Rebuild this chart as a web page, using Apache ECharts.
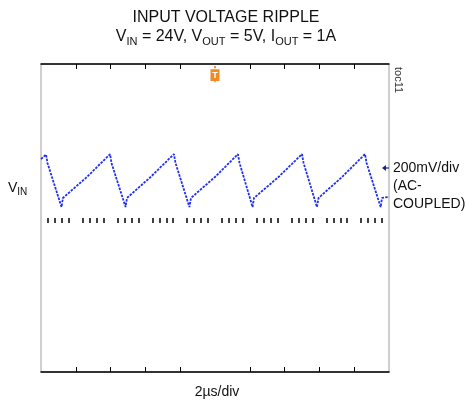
<!DOCTYPE html>
<html>
<head>
<meta charset="utf-8">
<title>Input voltage ripple</title>
<script src="https://cdn.jsdelivr.net/npm/echarts@6/dist/echarts.min.js"></script>
<style>
  html, body { margin: 0; padding: 0; background: #fff; }
  #chart { width: 466px; height: 403px; }
</style>
</head>
<body>
<div id="chart"></div>
<script>
// time in us (2us/div, 10 div), ripple in mV (200mV/div, 8 div)
const timeUs = [
  0.0, 0.29, 0.37, 1.18, 1.26, 1.32, 2.64,
  3.97, 4.05, 4.86, 4.94, 5.0, 6.3,
  7.64, 7.73, 8.53, 8.62, 8.68, 10.0,
  11.32, 11.41, 12.16, 12.24, 12.3, 13.65,
  15.0, 15.09, 15.86, 15.95, 16.01, 17.3,
  18.62, 18.71, 19.52, 19.6, 19.66, 20.0
];
const rippleMv = [
  306, 330, 286, 57, 104, 94, 213,
  332, 286, 57, 104, 94, 213,
  332, 286, 57, 104, 94, 213,
  332, 286, 57, 104, 94, 213,
  332, 286, 57, 104, 94, 213,
  332, 286, 57, 104, 94, 110
];
const majorTicks = [2, 4, 6, 8, 12, 14, 16, 18];
const triggerUs = 10;

const FONT = "'Liberation Sans', Arial, sans-serif";
const chart = echarts.init(document.getElementById("chart"));

function frameAxis(position) {
  return {
    type: "value",
    position: position,
    min: 0,
    max: 20,
    interval: 2,
    axisLine: { show: true, onZero: false, lineStyle: { color: "#000", width: 1.5 } },
    axisTick: {
      show: true,
      inside: true,
      length: 5,
      customValues: majorTicks,
      lineStyle: { color: "#000", width: 1 },
    },
    axisLabel: { show: false },
    splitLine: { show: false },
  };
}

const option = {
  animation: false,
  grid: {
    left: 41,
    top: 64,
    width: 348,
    height: 308,
    show: true,
    borderColor: "#a0a0a0",
    borderWidth: 1,
    outerBoundsMode: "none",
  },
  xAxis: [
    frameAxis("top"),
    frameAxis("bottom"),
    {
      // centre graticule line, minor ticks only
      type: "value",
      position: "bottom",
      min: 0,
      max: 20,
      interval: 2,
      axisLine: { show: false, onZero: true },
      axisTick: { show: false },
      minorTick: {
        show: true,
        splitNumber: 5,
        length: 5,
        lineStyle: { color: "#000", width: 1.5 },
      },
      axisLabel: { show: false },
      splitLine: { show: false },
    },
  ],
  yAxis: {
    type: "value",
    min: -800,
    max: 800,
    axisLine: { show: false },
    axisTick: { show: false },
    axisLabel: { show: false },
    splitLine: { show: false },
  },
  series: [
    {
      type: "line",
      xAxisIndex: 0,
      data: timeUs.map((t, i) => [t, rippleMv[i]]),
      showSymbol: false,
      lineStyle: { color: "#1f2ef5", width: 1.8, type: [2.5, 1.2] },
      markPoint: {
        silent: true,
        data: [
          {
            coord: [triggerUs, 745],
            symbol: "path://M4,0 L6,0 L6,2 L4,2 Z M0,3 L10,3 L10,14 L6,14 L5,16 L4,14 L0,14 Z",
            symbolSize: [9, 17],
            itemStyle: { color: "#f08a24" },
            label: {
              show: true,
              formatter: "T",
              color: "#fff",
              fontSize: 9,
              fontWeight: "bold",
              fontFamily: FONT,
              offset: [0, 1],
            },
          },
        ],
      },
    },
  ],
  graphic: [
    {
      type: "text",
      x: 226,
      y: 18,
      style: {
        text: "INPUT VOLTAGE RIPPLE",
        font: "16px " + FONT,
        fill: "#111",
        align: "center",
        verticalAlign: "middle",
      },
    },
    {
      type: "text",
      x: 226,
      y: 37,
      style: {
        text: "V{s|IN} = 24V, V{s|OUT} = 5V, I{s|OUT} = 1A",
        font: "16px " + FONT,
        fill: "#111",
        align: "center",
        verticalAlign: "middle",
        lineHeight: 20,
        rich: {
          s: { fontSize: 11, fontFamily: FONT, lineHeight: 12, verticalAlign: "bottom" },
        },
      },
    },
    {
      type: "text",
      x: 8,
      y: 188,
      style: {
        text: "V{s|IN}",
        font: "14px " + FONT,
        fill: "#111",
        verticalAlign: "middle",
        lineHeight: 18,
        rich: {
          s: { fontSize: 10, fontFamily: FONT, lineHeight: 10, verticalAlign: "bottom" },
        },
      },
    },
    {
      type: "text",
      x: 393,
      y: 186,
      style: {
        text: "200mV/div\n(AC-\nCOUPLED)",
        font: "14px " + FONT,
        fill: "#111",
        lineHeight: 18,
        verticalAlign: "middle",
      },
    },
    {
      type: "polygon",
      shape: { points: [[382, 168], [386, 165], [386, 171]] },
      style: { fill: "#1a237e" },
    },
    {
      type: "line",
      shape: { x1: 385, y1: 168, x2: 389, y2: 168 },
      style: { stroke: "#1a237e", lineWidth: 1.2 },
    },
    {
      type: "text",
      x: 217,
      y: 392,
      style: {
        text: "2µs/div",
        font: "14px " + FONT,
        fill: "#111",
        align: "center",
        verticalAlign: "middle",
      },
    },
    {
      type: "text",
      x: 398,
      y: 80,
      rotation: -Math.PI / 2,
      style: {
        text: "toc11",
        font: "11px " + FONT,
        fill: "#333",
        align: "center",
        verticalAlign: "middle",
      },
    },
  ],
};

chart.setOption(option);
</script>
</body>
</html>
